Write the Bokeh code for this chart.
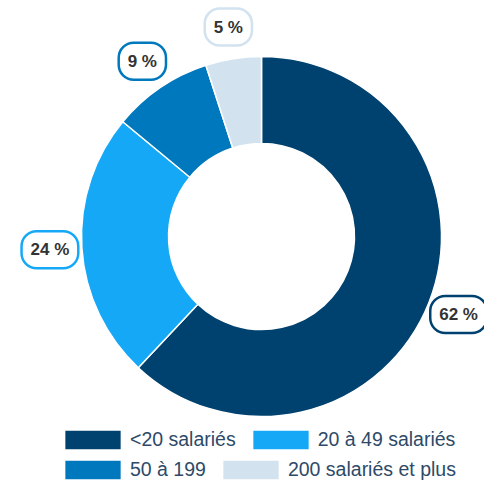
import numpy as np
from bokeh.plotting import figure
from bokeh.models import ColumnDataSource, Legend, LegendItem, Range1d
from bokeh.core.properties import value
from bokeh.embed import file_html
from bokeh.resources import INLINE

# data
categories = ["<20 salariés", "20 à 49 salariés", "50 à 199", "200 salariés et plus"]
shares = [62, 24, 9, 5]
labels = ["62 %", "24 %", "9 %", "5 %"]
colors = ["#00426f", "#14a8f7", "#0078bd", "#d3e2ef"]

W, H = 484, 482
CX, CY = 261, 246
R_OUT, R_IN, R_LAB = 180, 93, 212

frac = np.array(shares, dtype=float) / sum(shares)
cum = np.concatenate([[0], np.cumsum(frac)])
start = np.pi / 2 - 2 * np.pi * cum[:-1]
end = np.pi / 2 - 2 * np.pi * cum[1:]
mid = (start + end) / 2

src = ColumnDataSource(dict(
    cat=categories, start=start, end=end, color=colors,
    lx=CX + R_LAB * np.cos(mid), ly=CY + R_LAB * np.sin(mid), lab=labels,
))

p = figure(width=W, height=H, output_backend="svg", toolbar_location=None,
           x_range=Range1d(0, W), y_range=Range1d(0, H), min_border=0)
p.axis.visible = False
p.grid.visible = False
p.outline_line_color = None

wr = p.annular_wedge(x=CX, y=CY, inner_radius=R_IN, outer_radius=R_OUT,
                     start_angle="start", end_angle="end", direction="clock",
                     fill_color="color", line_color="white", line_width=1.5, source=src)

p.text(x="lx", y="ly", text="lab", source=src, text_align="center", text_baseline="middle",
       text_font=value("Liberation Sans"), text_font_size="17px", text_font_style="bold",
       text_color="#333333", background_fill_color="white", border_line_color="color",
       border_line_width=2.5, border_radius=15, padding=(9, 9))

items = [LegendItem(label=c, renderers=[wr], index=i) for i, c in enumerate(categories)]
common = dict(orientation="horizontal", padding=0, margin=0, spacing=9, label_standoff=2,
              glyph_width=71, glyph_height=25, label_text_font="Liberation Sans",
              label_text_font_size="19.5px", label_text_color="#2e4a68",
              border_line_alpha=0, background_fill_alpha=0)
leg1 = Legend(items=items[:2], location=(57, 30), **common)
leg2 = Legend(items=items[2:], location=(57, 0), **common)
p.add_layout(leg1)
p.add_layout(leg2)

open("out.html", "w").write(file_html(p, INLINE))
